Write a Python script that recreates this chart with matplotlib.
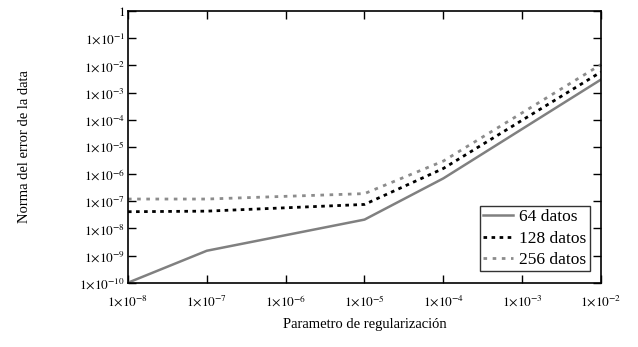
import math
import matplotlib
matplotlib.use("Agg")
import matplotlib.pyplot as plt
from matplotlib.ticker import FixedLocator, FuncFormatter

plt.rcParams['font.family'] = ['Liberation Serif', 'DejaVu Serif']
plt.rcParams['mathtext.fontset'] = 'stix'

# regularization parameter and error norm for each data size
lam = [1e-8, 1e-7, 1e-5, 1e-4, 1e-2]
err_64 = [1.0e-10, 1.5e-9, 2.1e-8, 6.9e-7, 3.0e-3]
err_128 = [4.1e-8, 4.3e-8, 7.6e-8, 1.6e-6, 5.7e-3]
err_256 = [1.2e-7, 1.2e-7, 1.9e-7, 3.0e-6, 1.07e-2]
labels = ['64 datos', '128 datos', '256 datos']

fig = plt.figure(figsize=(6.38, 3.47), dpi=100)
ax = fig.add_axes([0.2006, 0.1853, 0.7414, 0.7830])

ax.plot(lam, err_64, color='#808080', lw=1.8, ls='-', label=labels[0])
ax.plot(lam, err_128, color='black', lw=2.0, ls=(0, (1.3, 1.6)), label=labels[1])
ax.plot(lam, err_256, color='#8c8c8c', lw=2.0, ls=(0, (1.3, 2.0)), label=labels[2])

ax.set_xscale('log')
ax.set_yscale('log')
ax.set_xlim(1e-8, 1e-2)
ax.set_ylim(1e-10, 1)


def sci(v, pos):
    e = int(round(math.log10(v)))
    if e == 0:
        return '$1$'
    return r'$1{\times}10^{%d}$' % e


ax.xaxis.set_major_locator(FixedLocator([10.0 ** e for e in range(-8, -1)]))
ax.yaxis.set_major_locator(FixedLocator([10.0 ** e for e in range(-10, 1)]))
ax.xaxis.set_major_formatter(FuncFormatter(sci))
ax.yaxis.set_major_formatter(FuncFormatter(sci))
ax.minorticks_off()
ax.tick_params(which='major', direction='in', length=6, width=1.0,
               top=True, right=True, labelsize=9.5, pad=2)
ax.tick_params(axis='x', pad=8)
for s in ax.spines.values():
    s.set_linewidth(1.2)

ax.set_xlabel('Parametro de regularización', fontsize=10.5, labelpad=6)
ax.set_ylabel('Norma del error de la data', fontsize=10.5, labelpad=35)

leg = ax.legend(loc='lower right', fontsize=12.5, frameon=True, fancybox=False,
                edgecolor='black', handlelength=1.7, handletextpad=0.35,
                borderpad=0.2, labelspacing=0.3, borderaxespad=0.65)
leg.get_frame().set_linewidth(1.0)

fig.savefig('out.png', dpi=100)
